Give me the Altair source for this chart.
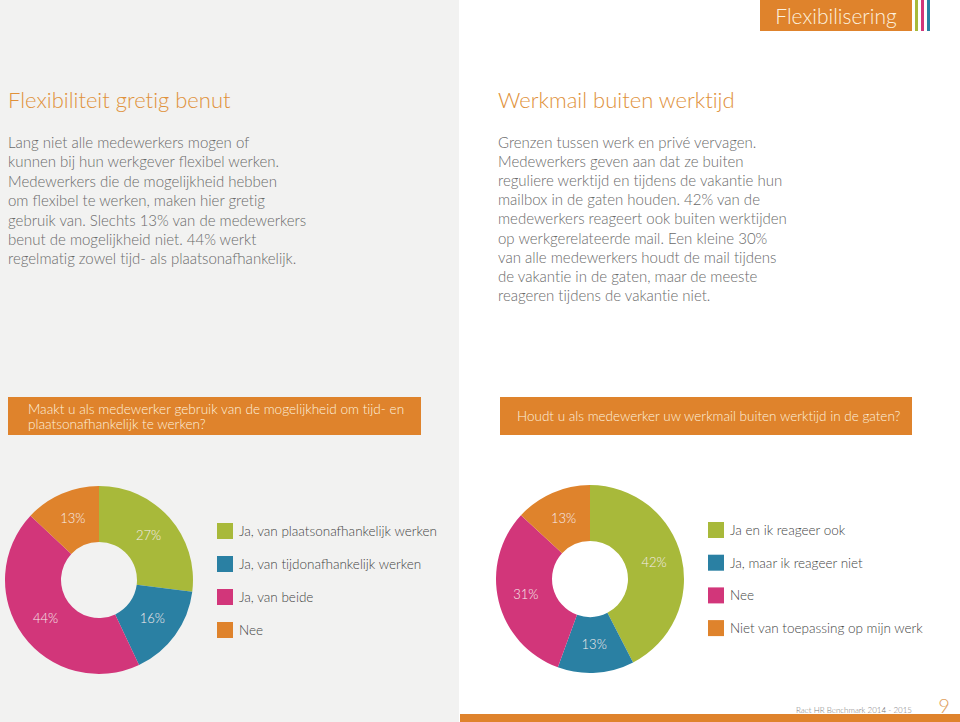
import altair as alt
import pandas as pd

# ---- data ----
left_cats = ["Ja, van plaatsonafhankelijk werken", "Ja, van tijdonafhankelijk werken", "Ja, van beide", "Nee"]
left_vals = [27, 16, 44, 13]
right_cats = ["Ja en ik reageer ook", "Ja, maar ik reageer niet", "Nee", "Niet van toepassing op mijn werk"]
right_vals = [42, 13, 31, 13]
palette = ["#a8b93a", "#2a80a3", "#d2367a", "#df832c"]

ORANGE = "#df832c"
TITLE_OR = "#e0913a"
GRAY_TXT = "#6a6a6a"
FONT = "Lato"


def nolig(s):
    # avoid the font's "ti" ligature so the glyphs look like the reference
    return s.replace("ti", "t\u200ci")


left_df = pd.DataFrame({"cat": [nolig(c) for c in left_cats], "value": left_vals, "color": palette,
                        "idx": range(4), "label": [f"{v}%" for v in left_vals]})
right_df = pd.DataFrame({"cat": [nolig(c) for c in right_cats], "value": right_vals, "color": palette,
                         "idx": range(4), "label": [f"{v}%" for v in right_vals]})

dummy = pd.DataFrame({"a": [0]})


def rect(x, x2, y, y2, color):
    return alt.Chart(dummy).mark_rect(color=color).encode(
        x=alt.value(x), x2=alt.value(x2), y=alt.value(y), y2=alt.value(y2))


def txt(s, x, y, size, color, align="left", weight=300, lh=None):
    kw = dict(font=FONT, fontSize=size, color=color, align=align, baseline="alphabetic",
              fontWeight=weight)
    if lh is not None:
        kw.update(lineBreak="\n", lineHeight=lh)
    return alt.Chart(dummy).mark_text(**kw).encode(
        x=alt.value(x), y=alt.value(y), text=alt.value(nolig(s)))


layers = []
# backgrounds
layers.append(rect(0, 459, 0, 722, "#f2f2f1"))
layers.append(rect(460, 960, 714, 722, ORANGE))
# header
layers.append(rect(760, 912, 0, 31, ORANGE))
layers.append(rect(915, 918, 0, 31, "#a8b93a"))
layers.append(rect(921, 924, 0, 31, "#d2367a"))
layers.append(rect(927, 930, 0, 31, "#2a80a3"))
layers.append(txt("Flexibilisering", 836, 24, 21, "#fdf1df", align="center"))

# titles
layers.append(txt("Flexibiliteit gretig benut", 8, 108, 22, TITLE_OR))
layers.append(txt("Werkmail buiten werktijd", 498, 108, 22, TITLE_OR))

left_body = ("Lang niet alle medewerkers mogen of\n"
             "kunnen bij hun werkgever flexibel werken.\n"
             "Medewerkers die de mogelijkheid hebben\n"
             "om flexibel te werken, maken hier gretig\n"
             "gebruik van. Slechts 13% van de medewerkers\n"
             "benut de mogelijkheid niet. 44% werkt\n"
             "regelmatig zowel tijd- als plaatsonafhankelijk.")
right_body = ("Grenzen tussen werk en privé vervagen.\n"
              "Medewerkers geven aan dat ze buiten\n"
              "reguliere werktijd en tijdens de vakantie hun\n"
              "mailbox in de gaten houden. 42% van de\n"
              "medewerkers reageert ook buiten werktijden\n"
              "op werkgerelateerde mail. Een kleine 30%\n"
              "van alle medewerkers houdt de mail tijdens\n"
              "de vakantie in de gaten, maar de meeste\n"
              "reageren tijdens de vakantie niet.")
layers.append(txt(left_body, 8, 148, 15, GRAY_TXT, lh=19.4))
layers.append(txt(right_body, 498, 148, 15, GRAY_TXT, lh=19.1))

# question boxes
layers.append(rect(8, 421, 397, 435, ORANGE))
layers.append(rect(500, 912, 397, 435, ORANGE))
layers.append(txt("Maakt u als medewerker gebruik van de mogelijkheid om tijd- en\nplaatsonafhankelijk te werken?",
                  28, 414, 13.6, "#fdf1df", lh=15))
layers.append(txt("Houdt u als medewerker uw werkmail buiten werktijd in de gaten?",
                  517, 421, 13.5, "#fdf1df"))


def donut(df, cx, cy):
    base = alt.Chart(df).encode(
        theta=alt.Theta("value:Q", stack=True),
        order=alt.Order("idx:Q"),
    )
    arcs = base.mark_arc(innerRadius=38, outerRadius=94).encode(
        color=alt.Color("color:N", scale=None),
        x=alt.value(cx), y=alt.value(cy))
    labels = base.mark_text(radius=66, font=FONT, fontSize=13, fontWeight=300,
                            color="#f6ecec").encode(
        text="label:N", x=alt.value(cx), y=alt.value(cy))
    return [arcs, labels]


def legend(df, x0, y0, step):
    out = []
    for i, row in df.iterrows():
        yc = y0 + i * step
        out.append(rect(x0, x0 + 16, yc - 8, yc + 8, row["color"]))
        out.append(alt.Chart(dummy).mark_text(font=FONT, fontSize=13.5, fontWeight=300,
                                              color="#444444", align="left",
                                              baseline="alphabetic").encode(
            x=alt.value(x0 + 22), y=alt.value(yc + 5), text=alt.value(row["cat"])))
    return out


layers += donut(left_df, 99, 580)
layers += donut(right_df, 590, 579)
layers += legend(left_df, 217, 531, 33)
layers += legend(right_df, 708, 530, 32.7)

# footer
layers.append(txt("Raet HR Benchmark 2014 - 2015", 912, 713, 8, "#777777", align="right"))
layers.append(txt("9", 944, 713, 20, "#e0a060", align="center"))

chart = alt.layer(*layers).resolve_scale(theta="independent").properties(
    width=960, height=722, padding=0, autosize=alt.AutoSizeParams(type="none"),
    background="white"
).configure_view(stroke=None)

chart.save("out.html", embed_options={"renderer": "svg", "actions": False})
